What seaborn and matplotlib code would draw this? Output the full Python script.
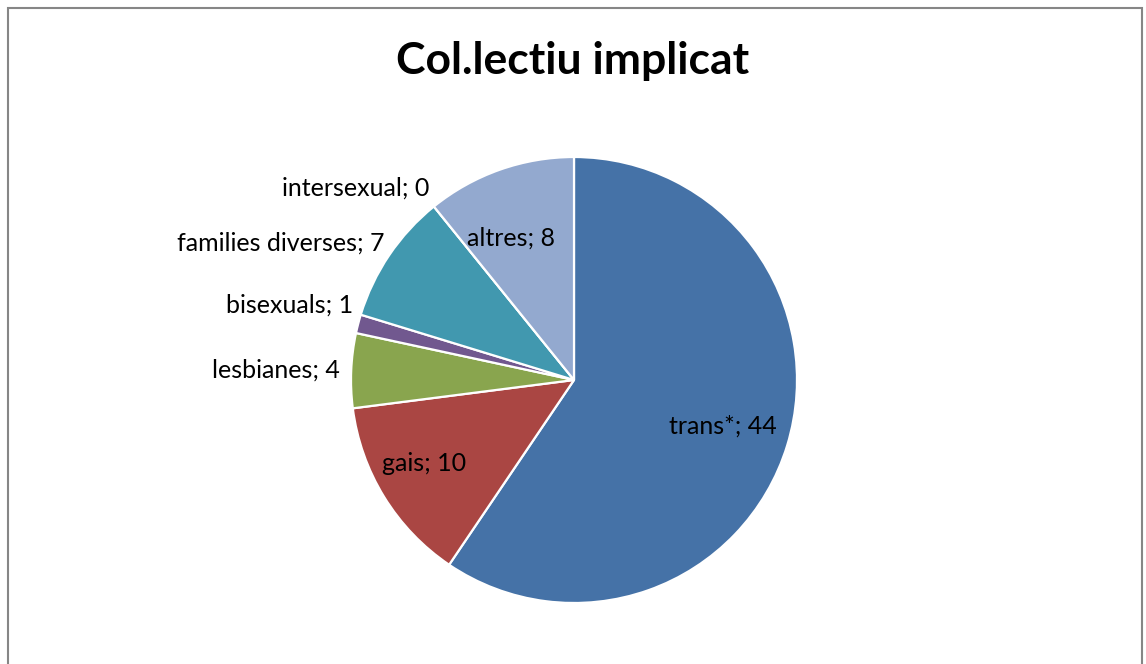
import numpy as np
import matplotlib
matplotlib.use("Agg")
import matplotlib.pyplot as plt
import seaborn as sns
from matplotlib.patches import Rectangle

# dades del gràfic
categories = ['trans*', 'gais', 'lesbianes', 'bisexuals', 'families diverses', 'intersexual', 'altres']
values = [44, 10, 4, 1, 7, 0, 8]
title = 'Col.lectiu implicat'

colors = ['#4572A7', '#AA4643', '#89A54E', '#71588F', '#4198AF', '#8DA9D0', '#93A9CF']
# etiquetes dins del pastís (distància relativa al radi)
inside = {'trans*': 0.70, 'gais': 0.74, 'altres': 0.70}
# petits desplaçaments (px) per imitar la col·locació d'Excel
nudge = {'bisexuals': (6, 16), 'families diverses': (4, 6), 'intersexual': (2, 10),
         'altres': (-11, -5), 'gais': (-9, 3)}

sns.set_theme(style='white')
plt.rcParams['font.family'] = ['Lato', 'DejaVu Sans']

W, H = 1146, 664
fig = plt.figure(figsize=(W / 100, H / 100), dpi=100)
ax = fig.add_axes([0, 0, 1, 1])

cx, cy, r = 574, H - 380, 223
ax.pie(values, colors=colors, startangle=90, counterclock=False,
       center=(cx, cy), radius=r, frame=True,
       wedgeprops=dict(edgecolor='white', linewidth=1.6))
ax.set_xlim(0, W)
ax.set_ylim(0, H)
ax.set_aspect('equal')
ax.axis('off')

# etiquetes
total = sum(values)
start = 90.0
for cat, v in zip(categories, values):
    span = v / total * 360
    mid = np.deg2rad(start - span / 2)
    start -= span
    label = f'{cat}; {v}'
    dx, dy = nudge.get(cat, (0, 0))
    if cat in inside:
        f = inside[cat]
        ax.text(cx + f * r * np.cos(mid) + dx, cy + f * r * np.sin(mid) + dy, label,
                ha='center', va='center', fontsize=18, color='black')
    else:
        ax.text(cx + 1.05 * r * np.cos(mid) + dx, cy + 1.05 * r * np.sin(mid) + dy, label,
                ha='right', va='center', fontsize=18, color='black')

fig.text(0.5, 1 - 61 / H, title, ha='center', va='center',
         fontsize=32, fontweight='bold', color='black')

fig.patches.append(Rectangle((7.5 / W, -0.01), (1142 - 7.5) / W, (H - 8) / H + 0.01,
                             transform=fig.transFigure, fill=False,
                             edgecolor='#868686', linewidth=1.5))

plt.savefig('out.png', dpi=100)
